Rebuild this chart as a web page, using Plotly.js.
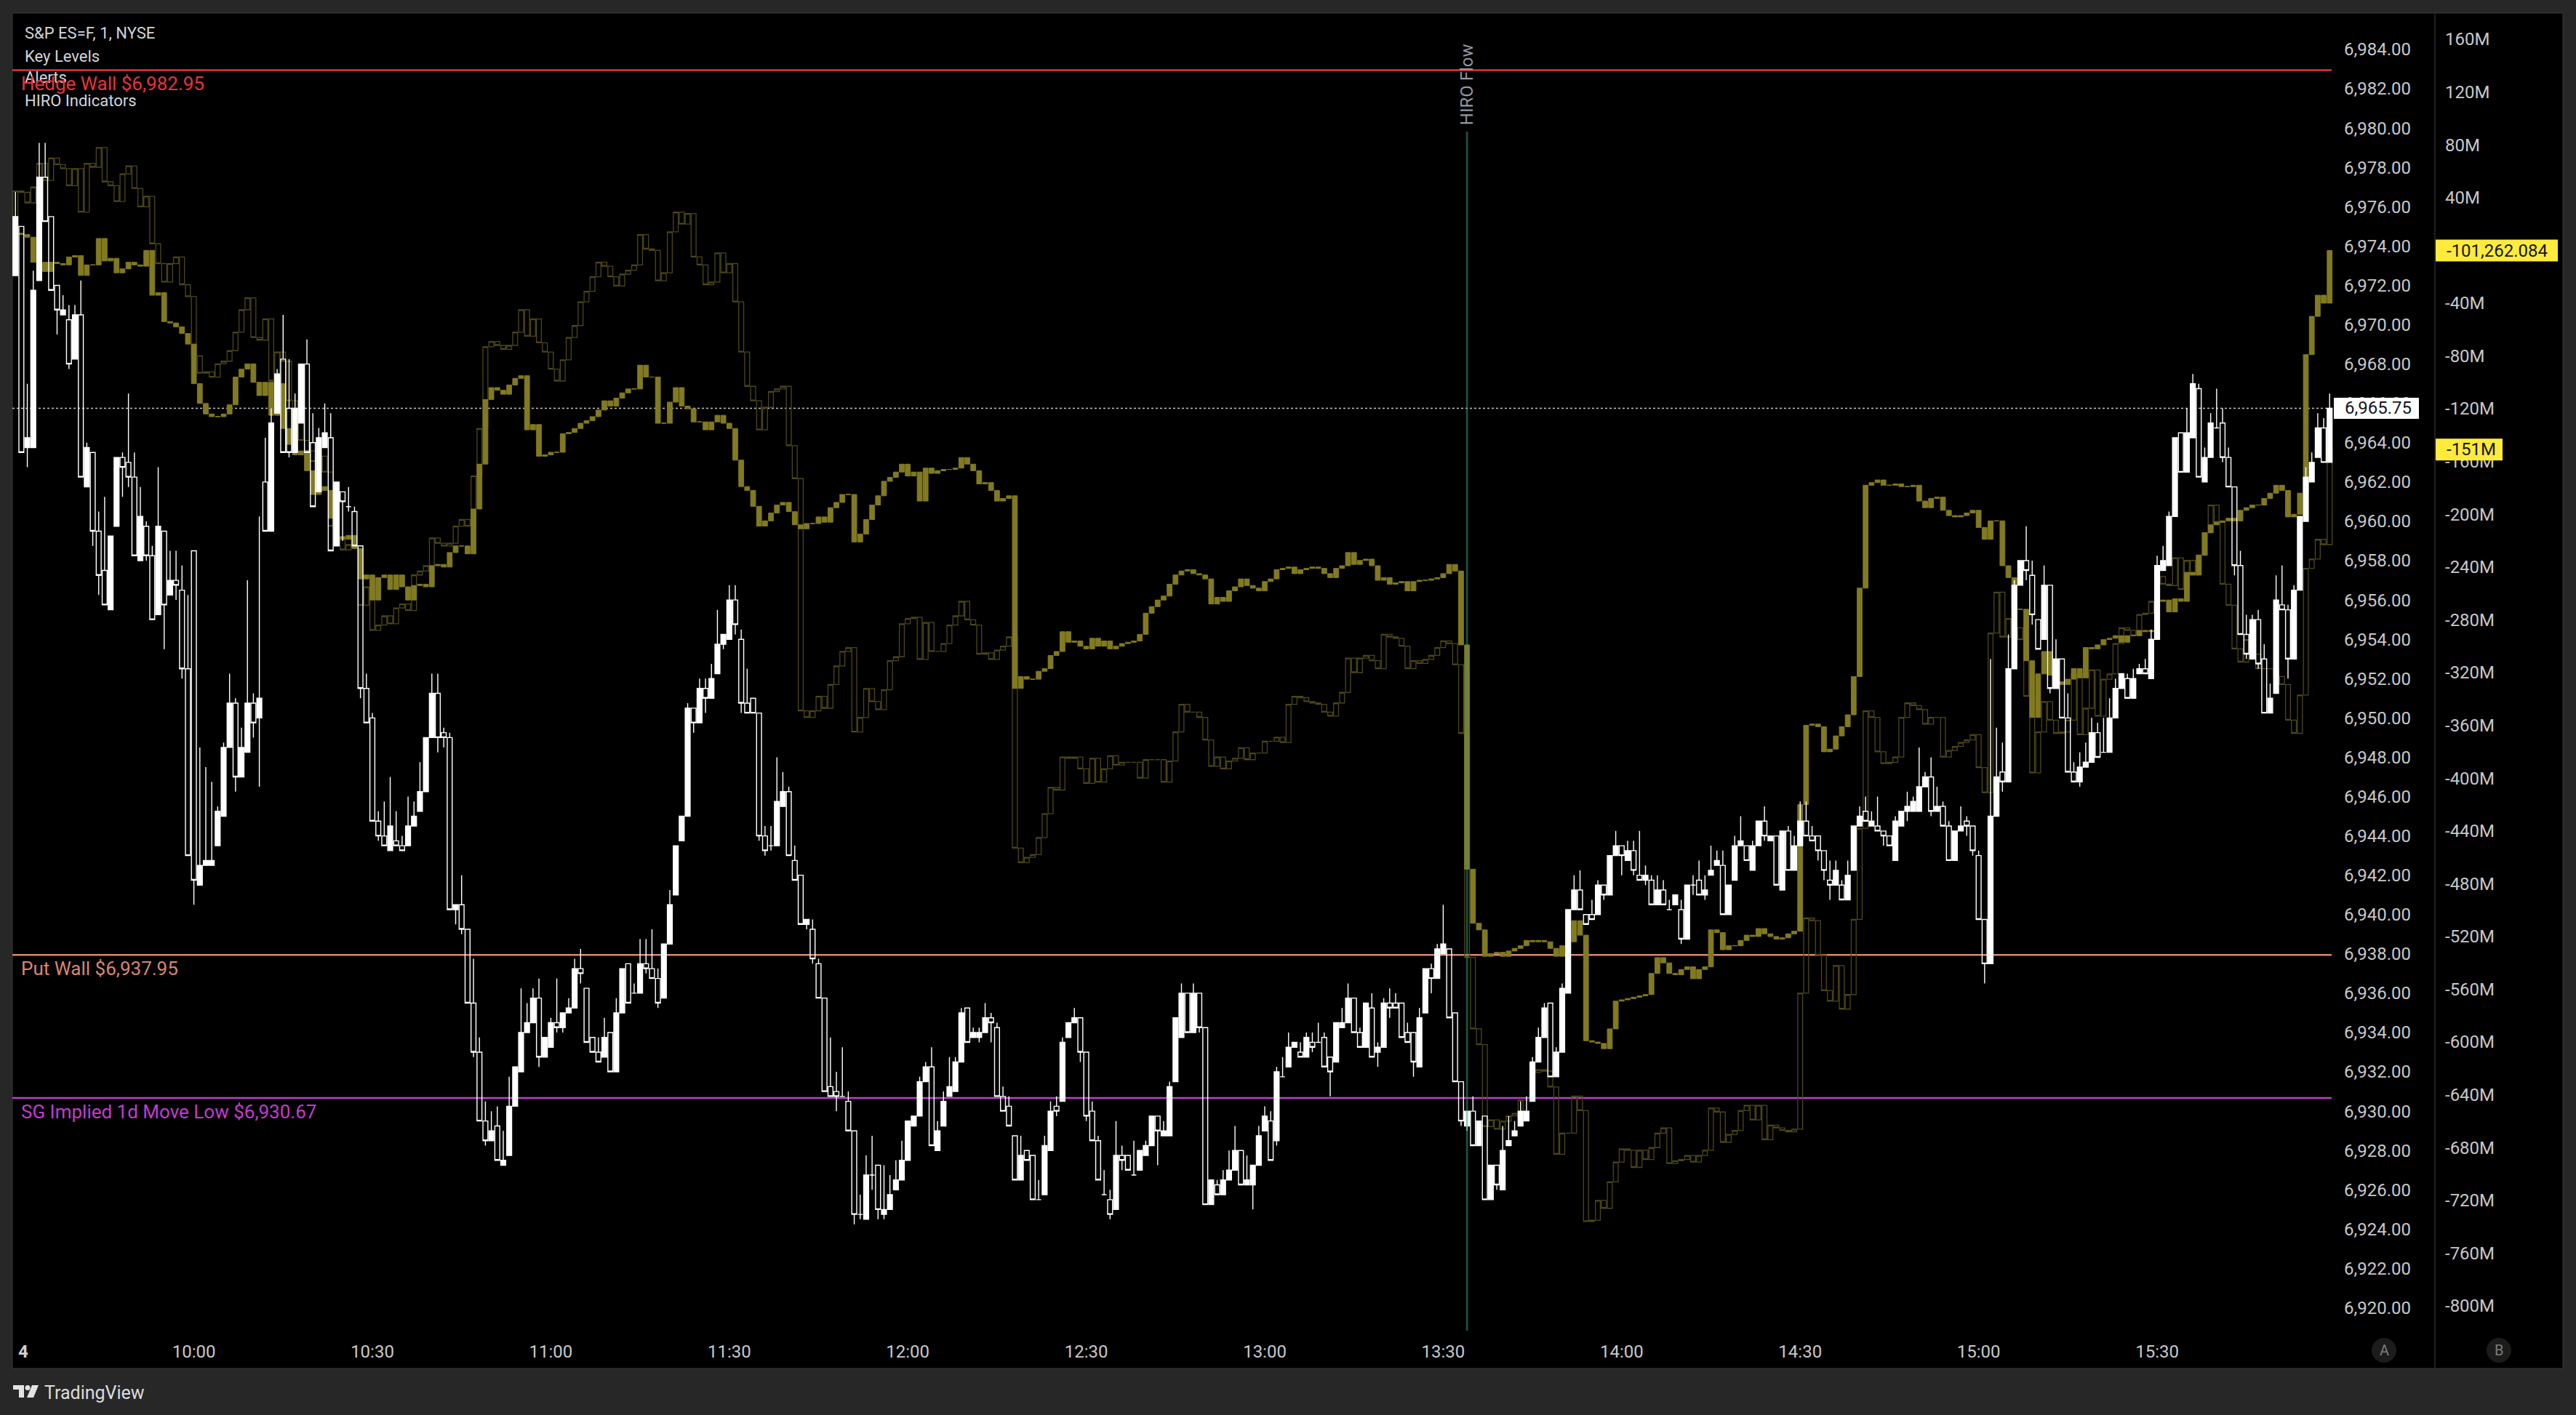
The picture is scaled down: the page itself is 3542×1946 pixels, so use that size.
<!DOCTYPE html>
<html><head><meta charset="utf-8">
<script src="https://cdn.plot.ly/plotly-3.0.1.min.js"></script>
<style>html,body{margin:0;padding:0;background:#272727;overflow:hidden}#chart{width:3542px;height:1946px}</style>
</head><body><div id="chart"></div>
<script>
// ---------- DATA (1-minute bars, 9:30 -> 15:59) ----------
const pOpen=[6972.5,6975,6963.75,6963.75,6972.25,6977.5,6975.5,6972,6970.5,6970.25,
6968.25,6970.5,6961.75,6963.5,6959.5,6957.5,6955.5,6959.75,6963.25,6963,
6962.25,6958,6959.75,6958.25,6955.25,6959.5,6956.25,6957,6956.5,6952.5,
6958.5,6941.5,6942.5,6942.5,6943.5,6945,6948.5,6950.75,6947,6948.25,
6950.75,6950,6962,6959.5,6965.5,6968.25,6965.75,6963.5,6965,6968,
6964,6961.5,6963.75,6964.25,6958.75,6961.5,6960.75,6960.5,6958.75,6951.5,
6950,6944.75,6944,6943.25,6943.75,6943.5,6943.5,6944.5,6945.25,6946.25,
6949,6951.25,6949.25,6949,6940.25,6940.5,6939.25,6935.5,6933,6929.5,
6928.5,6929.25,6927.25,6927.75,6930.25,6932,6934,6934.5,6935.75,6932.75,
6933.25,6934.5,6934.25,6935,6935.25,6937.25,6936.25,6933.75,6933,6932.75,
6934,6932,6935,6937.5,6936,6936,6937.5,6937.25,6936.75,6935.75,
6938.5,6941,6943.75,6945,6950.5,6949.75,6951.5,6951,6952.25,6953.75,
6954,6956,6954,6950.75,6951,6950.25,6944,6943.5,6943.5,6945.5,
6946.25,6942.75,6942,6939.5,6939.25,6937.5,6935.75,6931.25,6931,6930.75,
6930.5,6929,6924.75,6924.5,6926.75,6927.25,6924.75,6925,6926,6926.5,
6927.5,6929.25,6929.75,6931.5,6932.25,6928,6929.25,6930.75,6931,6932.5,
6935.25,6933.75,6933.75,6934,6934.75,6934.25,6930.75,6930.25,6928.75,6926.5,
6928,6927.75,6925.5,6925.75,6928,6930.25,6930.5,6933.75,6934.5,6934.75,
6933,6930,6928.5,6925.75,6925.5,6925,6927.75,6927.75,6926.75,6927,
6927.75,6928.25,6929.75,6928.75,6928.75,6931.5,6933.75,6936,6934,6936,
6934.25,6925.25,6926.25,6925.75,6926.5,6927,6928,6926.25,6926.25,6927.25,
6929,6929.5,6928.5,6931.75,6932.25,6933.25,6933,6932.75,6933.5,6933.5,
6933.75,6932.75,6932.5,6934.25,6934.5,6935.75,6934,6933.25,6935.25,6933,
6933.25,6935.5,6935.5,6935.5,6934,6934,6932.25,6935,6937.25,6936.75,
6938,6938.25,6935,6931.5,6929.25,6930,6928.25,6929.75,6925.5,6927.25,
6926,6928.25,6928.75,6929.25,6929.5,6930.5,6932.5,6933.75,6935.5,6931.75,
6933,6936,6940.25,6941.25,6940,6940,6940,6941.5,6941,6943,
6943.5,6942.75,6943.25,6942,6941.75,6941.75,6940.5,6941.25,6940.25,6940.5,
6940.25,6938.75,6941.5,6941.75,6941,6942,6942.5,6942.5,6940,6941.75,
6943.5,6943.5,6942.25,6943.5,6944.75,6943.75,6944,6941.25,6944.25,6942.25,
6943.5,6944.75,6944,6944,6943.25,6941.75,6941.5,6941.5,6940.75,6942.25,
6944.5,6945.25,6944.5,6944.5,6944.25,6944,6942.75,6944.5,6945.25,6945.25,
6945.25,6946.5,6947,6945.25,6945.5,6944.5,6942.75,6944.25,6944.75,6944.5,
6943,6939.75,6937.5,6945,6947.25,6946.75,6952.5,6956.75,6958,6957.25,
6955,6954,6956.75,6951.5,6953,6950,6947.25,6946.75,6947.5,6947.75,
6949.25,6948.25,6948.25,6950,6951.5,6952,6951,6952.25,6952.5,6952,
6954,6957.5,6957.75,6960.25,6964.5,6962.5,6964.25,6966.75,6962,6963.25,
6964.75,6965,6963.25,6961.75,6957.75,6954.25,6953,6955,6953,6950.25,
6951.25,6955.75,6955.5,6953,6956.5,6960,6962,6963.25,6964.75,6963];
const pClose=[6975.5,6963.5,6964.25,6971.75,6977.5,6975.25,6971.75,6970.75,6970.75,6968,
6970.5,6962.25,6963.75,6959.5,6957.25,6955.75,6959.25,6963.25,6962.75,6962.25,
6958.25,6960.25,6958.25,6955,6959.75,6955.75,6957,6956.75,6952.5,6943,
6941.75,6942.5,6942.75,6942.75,6945.25,6948.5,6950.75,6947,6948.5,6950.75,
6949.75,6951,6959.5,6965,6967.5,6963.5,6963.5,6965.75,6968,6963.5,
6960.75,6964.25,6964.5,6958.5,6962,6961,6960.75,6958.75,6951.5,6949.75,
6944.75,6944,6943.5,6944.5,6943.5,6943.25,6944.5,6945,6946.25,6949,
6951.25,6949,6949,6940.25,6940.5,6939.25,6935.5,6933,6929.5,6928.5,
6929,6927.5,6927.5,6930.25,6932.25,6934,6934.5,6935.75,6932.75,6933.75,
6934.5,6934.25,6935,6935.25,6937.25,6937,6933.5,6933,6932.5,6933.75,
6932,6935,6937.25,6935.5,6936,6937.5,6937.25,6936.75,6935.5,6938.5,
6940.5,6943.5,6945,6950.5,6949.75,6951.5,6951,6952,6953.75,6954.25,
6956,6954.75,6950.75,6950.25,6950.25,6944,6943.25,6943.5,6945.75,6946.25,
6943,6941.75,6939.5,6939.75,6937.75,6935.75,6931,6930.75,6930.75,6930.75,
6929,6924.75,6924.75,6926.75,6926.75,6925,6925,6925.75,6926.5,6927.5,
6929.5,6929.75,6931.5,6932.25,6928.25,6929,6930.5,6931.25,6932.5,6935,
6933.5,6934,6934,6934.75,6934.5,6930.75,6930,6929.25,6926.5,6927.75,
6927.5,6925.5,6925.5,6928.25,6930,6930,6933.5,6934.5,6934.75,6933,
6929.75,6928.5,6926.5,6925.75,6924.75,6927.75,6927.5,6927,6926.75,6928,
6928.25,6929.75,6929,6929,6931.25,6934.75,6936,6934,6936,6934.25,
6925.25,6926.5,6925.75,6926.5,6927,6928,6926.25,6926.5,6927.25,6928.75,
6929.75,6927.5,6932,6931.75,6933.25,6933.5,6932.75,6933.75,6933.25,6933.5,
6932.25,6932,6934.5,6934.5,6935.75,6934,6933.25,6935.5,6932.75,6933.25,
6935.5,6935.25,6935.25,6933.75,6933.5,6932.5,6934.75,6937.25,6936.75,6938.25,
6938.5,6934.75,6931.5,6929.5,6930,6928.25,6929.5,6925.5,6927.25,6926.25,
6928,6928.5,6929,6930,6930,6932.5,6933.75,6935.25,6931.75,6933,
6936.25,6940.25,6941.25,6940.25,6939.5,6939.75,6941.5,6941,6943,6943.5,
6943,6943.25,6942.25,6941.75,6942,6940.5,6941.25,6940.5,6940.25,6941,
6938.75,6941.5,6941.5,6941,6941.25,6942.25,6942.75,6940,6941.5,6943.5,
6943.75,6942.75,6943.5,6944.75,6944,6944,6941.5,6944.25,6942.25,6943.5,
6944.75,6944,6943.75,6943.25,6942.25,6941.5,6942.25,6940.75,6942,6944.5,
6945,6944.75,6944.75,6944.25,6944,6943.5,6944.75,6945.25,6945.5,6945.75,
6946.5,6947,6945.25,6945.5,6944.5,6942.75,6944.25,6944.5,6944.5,6943.25,
6939.75,6937.5,6945,6947,6946.75,6952.5,6956.75,6958,6957.5,6955.25,
6953.5,6956.75,6951.5,6953,6950,6947.25,6946.75,6947.5,6947.75,6949.25,
6948,6948.25,6950,6951.5,6952.25,6951,6952,6952.5,6952.25,6954,
6957.75,6958,6960.25,6964.25,6962.5,6964.5,6967,6962.25,6963.25,6965,
6964.75,6963.25,6961.75,6957.75,6954.25,6953.25,6955,6952.75,6950.25,6951,
6956,6955.5,6953,6956.5,6960.25,6962.25,6963,6964.75,6963,6965.75];
const pUpperWick=[1.25,0,2.75,1,1.75,1.75,0,0,0.75,0.75,
0.5,1.75,0.25,0,1,3.75,0,0,0.25,3.5,
1.25,1.5,0.25,0.5,3,0,1.5,1.5,1.25,3.75,
0,6,4.75,4,0.25,0.25,1.5,0.25,1,6.25,
0.5,9.25,2.25,0.75,0.25,2.25,2.5,0.75,0,1.25,
1.5,0.5,1.5,1.25,0,0,1,0.25,0,0.75,
0.25,0.5,1.75,2.5,1.5,0.5,1.5,0.75,1.5,0,
1,1,0.25,0.25,0,1.5,0,2.25,0.75,1,
1,1,1.5,1.5,0,2.25,1,0.5,1,0,
0.25,2.25,0,0.5,0.5,1,0,0,0.75,1,
0,0.75,0,0,0.5,1.25,1.25,2,0.5,0,
0.75,0,0,0.25,0,0.5,0.5,0.75,1.75,0,
0.75,0.75,0.5,1.75,0,0,0.5,1,2.25,1,
0.25,0.75,0,0,0.5,0.25,0,2.5,1,2.5,
0.5,0,1,1,2,0,2.25,1,1,1,
0,0,0.25,0.25,1,0.5,0.5,1.5,0.25,0.25,
0,0.25,0.25,0.75,0.25,0.25,0.5,0.5,0,1,
0,0,1,0.5,0.5,0.5,0.25,0,0.5,0,
0,0.5,0.25,1.25,0.5,1.75,0.5,0,1.75,0,
0.25,0,0,0.5,0.25,0,0.5,0,0.5,0,
0,0,0.25,0.5,1,1.25,0,1.25,0,0.5,
0.5,0.5,0.25,1,0.75,0,0.5,0.25,0.5,1,
0.25,0,0,0.75,0.75,0,0.25,0,0.75,0.25,
0.25,0.75,0.5,0,0.5,0,0.5,0,0.25,0.25,
2,0,0,0,0,0.75,0,0,0,0,
1.25,1.25,0.5,0.5,0.75,0.25,0.5,0.25,0,0.25,
0.25,0,0.75,1,0,0.75,0.25,0,0,0.75,
0,0.5,0.5,2.25,0.5,0.25,0.75,0.5,0.5,0,
0.5,0,0.5,1,0.75,1.25,0.5,0.75,0,0.5,
1.25,0,0.25,0,0.75,0,0,0,0.25,0.5,
1,1,0.5,0,0,1,0.5,0.25,0.75,0,
0.5,0.75,0.5,1.5,0,0,0.25,0,0.75,0.25,
2,0.25,1,1,0.25,0.25,0,1,0.25,0,
0.25,0,8,2.5,1.5,1.75,0.25,0,1.75,0.75,
0,1,0,1,0,1.25,0.5,0.75,1,0.75,
0.5,1.75,1,0.5,0,0.25,0.5,0.25,0.5,0.5,
0.5,0.75,0.25,0,0,1.25,0.5,0.25,0.5,0.5,
2,0.75,0.5,0,0.75,1,0.25,0.5,0.75,0.75,
1.25,2,0.25,0.25,0,0.5,0.5,0.75,0.5,0.75];
const pLowerWick=[0,0,1,0,0,0,0,1.25,0,0.25,
0,0,0,0.75,1,0,0,0,1.5,0.5,
0,0,0.25,0,0,2.25,0,0.75,0.5,0,
1.25,0,0,0,0,0,0,0.75,0,0,
0.75,3.5,0,0,0,0,0.25,0,0,0,
0,0,0,0,0,2,0.25,0,0.5,0,
0,0.25,0,0,0,0,0,0,0,0,
0,0.75,0.5,0,0.75,0.25,0,0.25,0,0.25,
0,0,0,0,0,0,0,0,0.5,0,
0,0.25,0.25,0,0,0.5,0,0,0,0,
0,0,0,0,0,0,0.25,0,0.25,0,
0,0,0,0,0.5,0,0.75,0,0,0.25,
0,0.5,0.5,0,0,0.25,0.25,0.25,0,0,
0,0,0,0.25,0.25,0,0,0,0.75,0,
0,0.5,0.25,0,0.75,0.5,0.25,0,0,0,
0,0,0,0,0,0,0,0,0,0,
0,0,0.25,0,1,0,0,0,0,0,
0,0,0,0,0,0.25,0,0,0,0.5,
0.25,0,0,0,0.25,0,0.5,0,0,0,
0,0,1.75,0,0,0,0,0,0,0.25,
0,0,0,0,0,0,0,0,1.25,0,
0,0,0.25,0,0,0,0,0,0.25,0,
0,1.25,0,0,0,0,0,0,0,0.75,
0,0.5,0,0,0,0.75,0,0,0.75,0,
0,0,0,0.25,0.25,0,0,0,0,0.25,
0,0,0,0,0,0,0,0,0,0,
0,0,0,0,0,0,0,0.25,0,0,
1,0,0.25,0,0.25,0,0,0,0,0,
0.25,0,0.5,0,0.25,0,0,0,0,0,
0,0,0,0,0.25,0,0,0,0,0,
0,0,0,0.5,0.5,0.75,0,0,0,0,
0,0,0,0,0.5,0,0,0,0.5,0,
0,0,0.25,0,0,0,0,0,0.5,0.25,
0,1,0,0,0.5,0,0,0,0.5,0.5,
0,0,0.25,0,0,0,0,0.25,0,0,
0,0,0,0,0,0,0,0,0,0,
0,0,0,0,0,0,0,0,0,0,
0,0.25,0,0.5,0,0.25,0,0.25,0,0,
0,0,1,0,0,0,0,0,0,0];
// HIRO indicator (bright), close per bar, in millions
const hiroOpenFirst=15;
const hiroClose=[13,12,10,-9,-9,-16,-9,-10,-11,-5,
-4,-19,-11,-11,9,-8,-6,-17,-14,-9,
-11,-12,0,-34,-32,-54,-55,-58,-63,-71,
-101,-116,-124,-126,-126,-124,-117,-96,-90,-86,
-100,-110,-100,-125,-101,-135,-147,-155,-152,-167,
-185,-179,-182,-203,-217,-219,-216,-226,-249,-246,
-265,-248,-246,-257,-246,-255,-265,-254,-253,-255,
-239,-238,-240,-229,-224,-224,-230,-196,-162,-113,
-104,-106,-109,-102,-97,-95,-136,-132,-156,-155,
-153,-153,-139,-138,-135,-131,-129,-126,-121,-114,
-118,-112,-108,-105,-105,-87,-96,-96,-131,-131,
-115,-104,-118,-120,-130,-130,-136,-130,-125,-131,
-135,-159,-179,-182,-194,-209,-205,-199,-193,-191,
-198,-208,-211,-207,-207,-202,-206,-195,-191,-185,
-185,-221,-215,-204,-193,-186,-175,-172,-168,-162,
-171,-168,-190,-165,-169,-167,-166,-166,-165,-157,
-162,-167,-177,-176,-182,-190,-188,-186,-332,-323,
-325,-325,-319,-317,-307,-304,-289,-297,-296,-300,
-302,-294,-300,-296,-302,-300,-298,-297,-296,-291,
-275,-270,-265,-262,-253,-246,-243,-242,-245,-246,
-249,-268,-263,-266,-258,-255,-249,-254,-256,-258,
-251,-249,-242,-241,-240,-245,-242,-241,-240,-241,
-245,-248,-241,-239,-229,-238,-235,-234,-239,-250,
-248,-253,-252,-251,-258,-251,-250,-250,-249,-248,
-245,-238,-243,-299,-469,-510,-515,-535,-533,-532,
-535,-531,-529,-527,-523,-524,-523,-524,-529,-535,
-527,-524,-508,-519,-599,-600,-601,-605,-590,-569,
-568,-567,-566,-565,-564,-548,-536,-540,-548,-549,
-545,-543,-552,-545,-543,-515,-517,-530,-527,-527,
-523,-519,-520,-514,-518,-520,-522,-521,-518,-516,
-420,-360,-359,-361,-380,-378,-368,-361,-352,-323,
-256,-178,-176,-174,-178,-178,-177,-179,-179,-178,
-190,-195,-188,-187,-197,-201,-202,-201,-199,-197,
-210,-219,-205,-205,-239,-248,-272,-272,-311,-354,
-321,-304,-322,-327,-329,-325,-317,-324,-301,-302,
-299,-295,-294,-292,-297,-292,-292,-288,-289,-288,
-266,-265,-274,-264,-266,-244,-246,-231,-214,-208,
-206,-205,-203,-205,-197,-195,-193,-193,-188,-184,
-178,-182,-202,-200,-184,-79,-50,-34,-40,-0.101262084];
// HIRO indicator (dim), close per bar, in millions
const hiroDimOpenFirst=25;
const hiroDimClose=[45,44,36,48,66,53,70,65,62,49,
62,29,66,63,78,52,49,37,58,64,
47,33,41,5,-10,-24,-10,-5,-26,-35,
-80,-93,-92,-96,-86,-84,-76,-62,-45,-36,
-66,-68,-52,-99,-77,-84,-114,-127,-144,-152,
-160,-156,-168,-209,-217,-227,-223,-226,-269,-255,
-288,-284,-277,-283,-271,-268,-273,-246,-243,-239,
-218,-222,-224,-222,-209,-204,-209,-171,-135,-73,
-69,-72,-75,-72,-62,-45,-65,-52,-70,-77,
-90,-99,-83,-66,-57,-39,-31,-20,-9,-12,
-20,-27,-18,-15,-11,12,1,0,-23,-17,
14,29,20,28,-5,-11,-26,-24,-2,-17,
-10,-39,-77,-103,-114,-136,-119,-107,-105,-103,
-148,-173,-349,-354,-349,-338,-347,-329,-315,-304,
-301,-365,-354,-332,-342,-348,-333,-311,-308,-283,
-279,-278,-310,-282,-304,-304,-298,-284,-277,-266,
-280,-284,-306,-305,-310,-303,-300,-293,-453,-464,
-460,-458,-445,-427,-407,-409,-384,-385,-384,-393,
-404,-385,-403,-393,-383,-390,-388,-388,-388,-400,
-386,-386,-386,-403,-387,-365,-344,-350,-350,-354,
-371,-391,-384,-393,-387,-385,-377,-386,-381,-381,
-372,-372,-369,-373,-344,-338,-339,-342,-343,-344,
-350,-353,-343,-335,-309,-320,-309,-307,-311,-317,
-291,-293,-294,-300,-317,-311,-313,-310,-307,-301,
-296,-298,-314,-366,-536,-590,-602,-664,-659,-666,
-660,-656,-654,-644,-644,-623,-621,-622,-634,-685,
-669,-669,-641,-652,-736,-735,-720,-726,-706,-691,
-681,-682,-695,-682,-689,-680,-669,-665,-692,-690,
-689,-686,-691,-686,-682,-650,-653,-676,-670,-667,
-652,-648,-659,-648,-674,-663,-665,-667,-668,-666,
-563,-506,-508,-534,-561,-569,-542,-575,-564,-507,
-438,-349,-354,-380,-389,-388,-384,-354,-343,-345,
-348,-359,-354,-354,-384,-379,-376,-373,-371,-367,
-392,-411,-290,-259,-293,-279,-286,-295,-338,-396,
-365,-342,-356,-366,-365,-356,-321,-367,-347,-318,
-353,-325,-321,-298,-286,-288,-292,-276,-275,-266,
-247,-253,-254,-233,-257,-235,-246,-231,-214,-193,
-206,-253,-269,-302,-312,-295,-306,-317,-317,-317,
-323,-329,-356,-366,-337,-241,-234,-219,-223,-151];
const timeTickBars=[30,60,90,120,150,180,210,240,270,300,330,360];
const timeTickLabels=['10:00','10:30','11:00','11:30','12:00','12:30','13:00','13:30','14:00','14:30','15:00','15:30'];
const dayLabel='4';
const priceTicks=[6920,6922,6924,6926,6928,6930,6932,6934,6936,6938,6940,6942,6944,6946,6948,6950,6952,6954,6956,6958,6960,6962,6964,6966,6968,6970,6972,6974,6976,6978,6980,6982,6984];
const hiroTicks=[-800,-760,-720,-680,-640,-600,-560,-520,-480,-440,-400,-360,-320,-280,-240,-200,-160,-120,-80,-40,40,80,120,160];
const legendLines=['S&P ES=F, 1, NYSE','Key Levels','Alerts','HIRO Indicators'];
const levelNames=['Hedge Wall','Put Wall','SG Implied 1d Move Low'];
const levelValues=[6982.95,6937.95,6930.67];
const levelColors=['#e8333a','#d98670','#c33bd0'];
const lastPrice=6965.75;
const hiroLastLabel='-101,262.084';
const hiroDimLastLabel='-151M';
const hiroDimLast=-151;
const hiroFlowBar=244;

// ---------- BUILD ----------
const W=3542,H=1946,L=17,R=18,T=18,B=116;
const PW=W-L-R, PH=H-T-B;
const px=X=>(X-L)/PW, py=Y=>(H-B-Y)/PH;
const FONT='Roboto, "Liberation Sans", Arial, sans-serif';
const AX='#c8c8c8';
const bars=pOpen.map((_,i)=>i);
const pHigh=pOpen.map((o,i)=>Math.max(o,pClose[i])+pUpperWick[i]);
const pLow=pOpen.map((o,i)=>Math.min(o,pClose[i])-pLowerWick[i]);
function chain(first,closes){const o=closes.map((c,i)=>i===0?first:closes[i-1]);
 return {o:o,h:o.map((v,i)=>Math.max(v,closes[i])),l:o.map((v,i)=>Math.min(v,closes[i]))};}
const hb=chain(hiroOpenFirst,hiroClose), hd=chain(hiroDimOpenFirst,hiroDimClose);
const BRIGHT='#827a21', DIM='#4d4718';
function cs(name,o,h,l,c,yax,incFill,incLine,decFill,decLine,lw){
 return {type:'candlestick',name:name,x:bars,open:o,high:h,low:l,close:c,yaxis:yax,xaxis:'x',
  whiskerwidth:0,hoverinfo:'skip',showlegend:false,
  increasing:{fillcolor:incFill,line:{color:incLine,width:lw}},
  decreasing:{fillcolor:decFill,line:{color:decLine,width:lw}}};}
const traces=[
 cs('HIRO dim',hd.o,hd.h,hd.l,hiroDimClose,'y','rgba(0,0,0,0)',DIM,'rgba(0,0,0,0)',DIM,1.3),
 cs('HIRO',hb.o,hb.h,hb.l,hiroClose,'y',BRIGHT,BRIGHT,BRIGHT,BRIGHT,1),
 cs('ES',pOpen,pHigh,pLow,pClose,'y2','#ffffff','#ffffff','rgba(0,0,0,0)','#ffffff',1.4)
];
const fmtP=v=>v.toLocaleString('en-US',{minimumFractionDigits:2,maximumFractionDigits:2});
const shapes=[
 {type:'rect',xref:'paper',yref:'paper',x0:0,x1:1,y0:py(1882),y1:1,fillcolor:'#000',line:{color:'#3a3a3a',width:1},layer:'below'},
 {type:'line',xref:'paper',yref:'paper',x0:px(3348),x1:px(3348),y0:py(1882),y1:1,line:{color:'#1f1f1f',width:2},layer:'below'},
 {type:'line',xref:'paper',yref:'y2',x0:0,x1:px(3207),y0:lastPrice,y1:lastPrice,line:{color:'rgba(220,220,220,0.9)',width:1.5,dash:'dot'},layer:'below'},
 {type:'line',xref:'x',yref:'paper',x0:hiroFlowBar,x1:hiroFlowBar,y0:0,y1:py(181),line:{color:'rgba(60,150,120,0.5)',width:3},layer:'above'},
 {type:'rect',xref:'paper',yref:'y2',x0:px(3209),x1:px(3326),ysizemode:'pixel',yanchor:lastPrice,y0:-14.5,y1:14.5,fillcolor:'#ffffff',line:{width:0},layer:'above'},
 {type:'rect',xref:'paper',yref:'y',x0:px(3349),x1:px(3517),ysizemode:'pixel',yanchor:hiroClose[hiroClose.length-1],y0:-15,y1:15,fillcolor:'#ffeb3b',line:{width:0},layer:'above'},
 {type:'rect',xref:'paper',yref:'y',x0:px(3349),x1:px(3441),ysizemode:'pixel',yanchor:hiroDimLast,y0:-15,y1:15,fillcolor:'#ffeb3b',line:{width:0},layer:'above'},
 {type:'circle',xref:'paper',yref:'paper',x0:px(3261),x1:px(3295),y0:py(1874),y1:py(1840),fillcolor:'#1c1c1c',line:{width:0},layer:'above'},
 {type:'circle',xref:'paper',yref:'paper',x0:px(3419),x1:px(3453),y0:py(1874),y1:py(1840),fillcolor:'#1c1c1c',line:{width:0},layer:'above'},
 {type:'rect',xref:'paper',yref:'paper',x0:px(18),x1:px(33),y0:py(1911),y1:py(1905),fillcolor:'#e3e3e3',line:{width:0},layer:'above'},
 {type:'rect',xref:'paper',yref:'paper',x0:px(26),x1:px(33),y0:py(1922),y1:py(1905),fillcolor:'#e3e3e3',line:{width:0},layer:'above'},
 {type:'circle',xref:'paper',yref:'paper',x0:px(34.5),x1:px(41.5),y0:py(1912),y1:py(1905),fillcolor:'#e3e3e3',line:{width:0},layer:'above'},
 {type:'path',xref:'paper',yref:'paper',path:`M ${px(44)} ${py(1905)} L ${px(53)} ${py(1905)} L ${px(46)} ${py(1922)} L ${px(37)} ${py(1922)} Z`,fillcolor:'#e3e3e3',line:{width:0},layer:'above'}
];
levelValues.forEach((v,k)=>shapes.push({type:'line',xref:'paper',yref:'y2',x0:0,x1:px(3206),y0:v,y1:v,line:{color:levelColors[k],width:2.5},layer:'below'}));
const ann=[];
legendLines.forEach((t,k)=>ann.push({xref:'paper',yref:'paper',x:px(32),y:py([45,77,106,138][k]),xanchor:'left',yanchor:'middle',text:t,showarrow:false,font:{size:22,color:'#d1d4dc',family:FONT}}));
levelValues.forEach((v,k)=>ann.push({xref:'paper',yref:'y2',x:px(27),y:v,yshift:-19,xanchor:'left',yanchor:'middle',text:levelNames[k]+' $'+fmtP(v),showarrow:false,font:{size:26,color:levelColors[k],family:FONT}}));
ann.push({xref:'x',yref:'paper',x:hiroFlowBar,y:py(116),textangle:-90,xanchor:'center',yanchor:'middle',text:'HIRO Flow',showarrow:false,font:{size:24,color:'#9598a1',family:FONT}});
ann.push({xref:'paper',yref:'y2',x:px(3222),y:lastPrice,xanchor:'left',yanchor:'middle',text:fmtP(lastPrice),showarrow:false,font:{size:24,color:'#131722',family:FONT}});
ann.push({xref:'paper',yref:'y',x:px(3362),y:hiroClose[hiroClose.length-1],xanchor:'left',yanchor:'middle',text:hiroLastLabel,showarrow:false,font:{size:24,color:'#131722',family:FONT}});
ann.push({xref:'paper',yref:'y',x:px(3362),y:hiroDimLast,xanchor:'left',yanchor:'middle',text:hiroDimLastLabel,showarrow:false,font:{size:24,color:'#131722',family:FONT}});
ann.push({xref:'paper',yref:'paper',x:px(3278),y:py(1857),xanchor:'center',yanchor:'middle',text:'A',showarrow:false,font:{size:20,color:'#7d7d7d',family:FONT}});
ann.push({xref:'paper',yref:'paper',x:px(3436),y:py(1857),xanchor:'center',yanchor:'middle',text:'B',showarrow:false,font:{size:20,color:'#7d7d7d',family:FONT}});
ann.push({xref:'paper',yref:'paper',x:px(23),y:py(1859),xanchor:'left',yanchor:'middle',text:'<b>'+dayLabel+'</b>',showarrow:false,font:{size:24,color:'#d0d0d0',family:FONT}});
ann.push({xref:'paper',yref:'paper',x:px(59),y:py(1915),xanchor:'left',yanchor:'middle',text:'TradingView',showarrow:false,font:{size:25,color:'#dcdcdc',family:FONT}});

const layout={width:W,height:H,margin:{l:L,r:R,t:T,b:B,pad:0},
 paper_bgcolor:'#272727',plot_bgcolor:'rgba(0,0,0,0)',
 font:{family:FONT,color:AX,size:24},showlegend:false,hovermode:false,dragmode:false,
 boxgap:0.1,boxgroupgap:0.08,
 xaxis:{domain:[0,px(3208)],range:[-0.513,389.58],rangeslider:{visible:false},showgrid:false,zeroline:false,showline:false,
  ticks:'',tickvals:timeTickBars,ticktext:timeTickLabels,tickfont:{size:24,color:AX,family:FONT},ticklabelstandoff:12,fixedrange:true},
 yaxis:{range:[-818.73,179.84],side:'right',anchor:'free',position:px(3348),showgrid:false,zeroline:false,showline:false,ticks:'',
  tickvals:hiroTicks,ticktext:hiroTicks.map(v=>v+'M'),tickfont:{size:24,color:AX,family:FONT},ticklabelstandoff:13,fixedrange:true},
 yaxis2:{overlaying:'y',side:'right',anchor:'x',range:[6918.837,6985.849],showgrid:false,zeroline:false,showline:false,ticks:'',
  tickvals:priceTicks,ticktext:priceTicks.map(fmtP),tickfont:{size:24,color:AX,family:FONT},ticklabelstandoff:14,fixedrange:true},
 shapes:shapes,annotations:ann};
Plotly.newPlot('chart',traces,layout,{staticPlot:true,displayModeBar:false});
</script></body></html>
